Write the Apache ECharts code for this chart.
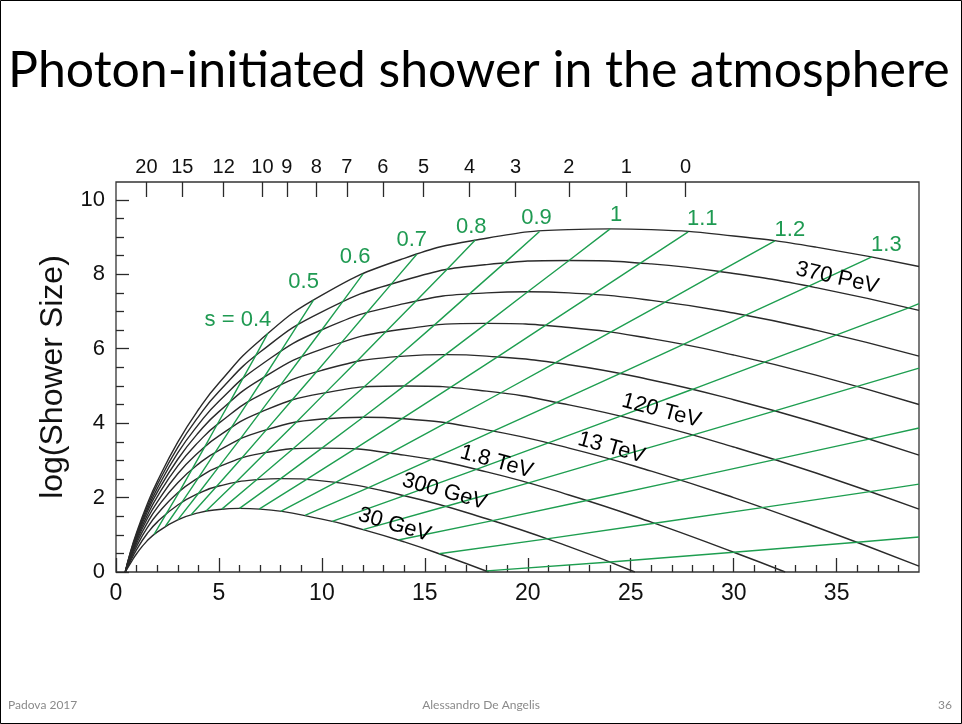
<!DOCTYPE html>
<html>
<head>
<meta charset="utf-8">
<script src="https://cdn.jsdelivr.net/npm/echarts@6/dist/echarts.min.js"></script>
<style>
  html, body { margin: 0; padding: 0; background: #fff; }
  #chart { width: 962px; height: 724px; }
</style>
</head>
<body>
<div id="chart"></div>
<script>
// Longitudinal profiles of photon showers: depth t (radiation lengths) vs log10 of shower size.
const curve30GeV  = [[0.45,0],[0.7,0.23],[1,0.49],[1.5,0.83],[2,1.07],[3,1.40],[4,1.59],[5,1.68],[6,1.71],[7,1.69],[10,1.42],[12,1.14],[14,0.81],[16,0.43],[18.1,0]];
const curve300GeV = [[0.45,0],[0.7,0.29],[1,0.60],[1.5,1.02],[2,1.34],[3,1.80],[4,2.11],[5,2.31],[7,2.49],[8,2.51],[10,2.45],[14,2.05],[18,1.43],[22,0.68],[25.2,0]];
const curve1p8TeV = [[0.45,0],[0.7,0.34],[1,0.69],[1.5,1.17],[2,1.55],[3,2.13],[4,2.53],[5,2.83],[7,3.18],[10,3.33],[14,3.14],[18,2.69],[22,2.07],[26,1.34],[30,0.53],[32.5,0]];
const curve13TeV  = [[0.45,0],[0.7,0.38],[1,0.77],[1.5,1.30],[2,1.73],[3,2.40],[4,2.90],[5,3.27],[7,3.77],[10,4.11],[12,4.16],[14,4.12],[18,3.82],[22,3.33],[26,2.71],[30,2.00],[34,1.21],[39,0.16]];
const curve120TeV = [[0.45,0],[0.7,0.41],[1,0.83],[1.5,1.41],[2,1.88],[3,2.64],[4,3.21],[5,3.66],[7,4.29],[10,4.80],[14,5.00],[18,4.86],[22,4.49],[26,3.98],[30,3.36],[34,2.66],[39,1.69]];
const curve1PeV   = [[0.45,0],[0.7,0.45],[1,0.89],[1.5,1.50],[2,2.02],[3,2.85],[4,3.49],[5,4.00],[7,4.75],[10,5.42],[14,5.80],[16,5.84],[18,5.80],[22,5.57],[26,5.16],[30,4.63],[34,4.01],[39,3.14]];
const curve7PeV   = [[0.45,0],[0.7,0.47],[1,0.93],[1.5,1.59],[2,2.14],[3,3.03],[4,3.74],[5,4.31],[7,5.17],[10,5.99],[14,6.53],[18,6.68],[22,6.57],[26,6.27],[30,5.83],[34,5.29],[39,4.50]];
const curve50PeV  = [[0.45,0],[0.7,0.50],[1,0.98],[1.5,1.66],[2,2.24],[3,3.20],[4,3.96],[5,4.59],[7,5.55],[10,6.51],[14,7.21],[18,7.50],[20,7.53],[22,7.50],[26,7.30],[30,6.96],[34,6.50],[39,5.80]];
const curve370PeV = [[0.45,0],[0.7,0.52],[1,1.02],[1.5,1.73],[2,2.34],[3,3.35],[4,4.17],[5,4.85],[7,5.91],[10,6.99],[14,7.84],[18,8.26],[22,8.37],[26,8.28],[30,8.02],[34,7.64],[39,7.03]];
const curve3EeV   = [[0.45,0],[0.7,0.54],[1,1.06],[1.5,1.80],[2,2.43],[3,3.49],[4,4.36],[5,5.08],[7,6.23],[10,7.44],[14,8.43],[18,8.97],[22,9.20],[24,9.22],[26,9.20],[30,9.03],[34,8.73],[39,8.21]];

const showerCurves = [curve30GeV, curve300GeV, curve1p8TeV, curve13TeV, curve120TeV,
                      curve1PeV, curve7PeV, curve50PeV, curve370PeV, curve3EeV];

// Lines of constant shower age s
const age04 = [[1.85,1.01],[2.46,1.58],[3.08,2.16],[3.69,2.76],[4.31,3.36],[4.92,3.97],[5.54,4.58],[6.15,5.19],[6.77,5.80],[7.38,6.42]];
const age05 = [[2.4,1.23],[3.2,1.87],[4.0,2.53],[4.8,3.20],[5.6,3.88],[6.4,4.56],[7.2,5.24],[8.0,5.93],[8.8,6.62],[9.6,7.31]];
const age06 = [[3,1.40],[4,2.11],[5,2.83],[6,3.55],[7,4.29],[8,5.03],[9,5.77],[10,6.51],[11,7.26],[12,8.01]];
const age07 = [[3.65,1.54],[4.87,2.29],[6.09,3.05],[7.30,3.82],[8.52,4.60],[9.74,5.38],[10.96,6.17],[12.17,6.96],[13.39,7.75],[14.61,8.54]];
const age08 = [[4.36,1.63],[5.82,2.41],[7.27,3.21],[8.73,4.01],[10.18,4.82],[11.64,5.63],[13.09,6.45],[14.55,7.27],[16.0,8.09],[17.45,8.92]];
const age09 = [[5.14,1.69],[6.86,2.49],[8.57,3.30],[10.29,4.12],[12.0,4.95],[13.71,5.79],[15.43,6.62],[17.14,7.46],[18.86,8.30],[20.57,9.15]];
const age10 = [[6,1.71],[8,2.51],[10,3.33],[12,4.16],[14,5.00],[16,5.84],[18,6.68],[20,7.53],[22,8.37],[24,9.22]];
const age11 = [[6.95,1.69],[9.26,2.49],[11.58,3.30],[13.89,4.12],[16.21,4.95],[18.53,5.78],[20.84,6.62],[23.16,7.46],[25.47,8.30],[27.79,9.14]];
const age12 = [[8,1.63],[10.67,2.41],[13.33,3.20],[16,4.00],[18.67,4.81],[21.33,5.62],[24,6.44],[26.67,7.25],[29.33,8.08],[32,8.90]];
const age13 = [[9.18,1.52],[12.24,2.26],[15.29,3.02],[18.35,3.79],[21.41,4.56],[24.47,5.33],[27.53,6.11],[30.59,6.90],[33.65,7.68],[36.71,8.47]];
const age14 = [[10.5,1.36],[14,2.05],[17.5,2.76],[21,3.47],[24.5,4.19],[28,4.91],[31.5,5.64],[35,6.37],[38.5,7.10],[39,7.21]];
const age15 = [[12,1.14],[16,1.76],[20,2.39],[24,3.04],[28,3.68],[32,4.33],[36,4.99],[39,5.48]];
const age16 = [[13.71,0.86],[18.29,1.38],[22.86,1.92],[27.43,2.47],[32,3.02],[36.57,3.57],[39,3.87]];
const age17 = [[15.69,0.49],[20.92,0.89],[26.15,1.31],[31.38,1.73],[36.62,2.16],[39,2.36]];
const age18 = [[18,0.03],[24,0.27],[30,0.53],[36,0.80],[39,0.94]];

const ageLines = [age04, age05, age06, age07, age08, age09, age10, age11, age12, age13, age14, age15, age16, age17, age18];
const ageLabels = ['s = 0.4', '0.5', '0.6', '0.7', '0.8', '0.9', '1', '1.1', '1.2', '1.3'];

const energyLabels = ['30 GeV', '300 GeV', '1.8 TeV', '13 TeV', '120 TeV', '370 PeV'];

// Altitude (km) scale along the top, at the matching atmospheric depth
const altitudeKm = [20, 15, 12, 10, 9, 8, 7, 6, 5, 4, 3, 2, 1, 0];
const altitudeDepth = [1.48, 3.22, 5.23, 7.11, 8.30, 9.73, 11.21, 12.96, 14.94, 17.17, 19.40, 21.99, 24.78, 27.66];

const depthTicks = [0, 5, 10, 15, 20, 25, 30, 35];
const sizeTicks = [0, 2, 4, 6, 8, 10];

// ---- layout / styling ----
const X_MAX = 39, Y_MAX = 10.48;
const INK = '#2a2a2a';
const GREEN = '#1e9e50';
const GREEN_TEXT = '#1f9a52';
const FONT = "'Liberation Sans', Arial, sans-serif";

// Label placement: age labels sit beside the upper end of their line (pixel offsets),
// energy labels are anchored in data space just above their curve.
const ageLabelOffset = [[-30,-13],[-10,-18],[-8,-17],[-5,-14],[-4,-13],[-3,-13.5],[6,-14],[14,-13],[15,-11],[14.5,-12]];
const energyLabelAnchor = [[13.53,1.27],[15.95,2.16],[18.48,2.96],[24.06,3.34],[26.49,4.33],[35.03,7.90]];
const energyLabelAngle = [-16.5, -15.5, -15.5, -15.5, -15, -12.5];

const xMinorTicks = [];
for (let v = 1; v < X_MAX; v++) if (v % 5 !== 0) xMinorTicks.push(v);
const yMinorTicks = [];
for (let v = 0.5; v < 10; v += 0.5) if (v % 2 !== 0) yMinorTicks.push(v);

const tickStyle = { color: INK, width: 1.3 };

const series = [];
showerCurves.forEach(pts => {
  series.push({
    type: 'line', data: pts, smooth: 0.5, symbol: 'none',
    lineStyle: { color: INK, width: 1.4 }, silent: true, z: 2
  });
});
ageLines.forEach(pts => {
  series.push({
    type: 'line', data: pts, smooth: false, symbol: 'none',
    lineStyle: { color: GREEN, width: 1.4 }, silent: true, z: 3
  });
});
series.push({
  type: 'scatter', symbolSize: 1, itemStyle: { color: 'transparent', opacity: 1 }, silent: true, z: 5,
  data: ageLabels.map((txt, i) => ({
    value: ageLines[i][ageLines[i].length - 1],
    label: { show: true, position: 'inside', formatter: txt, offset: ageLabelOffset[i],
             color: GREEN_TEXT, fontSize: 22, fontFamily: FONT, textBorderWidth: 0 }
  }))
});
series.push({
  type: 'scatter', symbolSize: 1, itemStyle: { color: 'transparent', opacity: 1 }, silent: true, z: 5,
  data: energyLabels.map((txt, i) => ({
    value: energyLabelAnchor[i],
    label: { show: true, position: 'inside', formatter: txt, rotate: energyLabelAngle[i],
             color: '#000', fontSize: 22, fontFamily: FONT, textBorderWidth: 0 }
  }))
});

const chart = echarts.init(document.getElementById('chart'), null, { renderer: 'canvas' });
chart.setOption({
  animation: false,
  backgroundColor: '#fff',
  grid: { left: 116, top: 182, width: 803, height: 390, show: true,
          borderColor: '#333', borderWidth: 1.3, backgroundColor: 'transparent' },
  xAxis: [
    { type: 'value', position: 'bottom', min: 0, max: X_MAX,
      axisLine: { show: false }, splitLine: { show: false },
      axisTick: { inside: true, length: 14, customValues: depthTicks, lineStyle: tickStyle },
      axisLabel: { customValues: depthTicks, fontSize: 23, margin: 10, color: '#111', fontFamily: FONT } },
    { type: 'value', position: 'bottom', min: 0, max: X_MAX,
      axisLine: { show: false }, splitLine: { show: false },
      axisTick: { inside: true, length: 7, customValues: xMinorTicks, lineStyle: tickStyle },
      axisLabel: { show: false } },
    { type: 'value', position: 'top', min: 0, max: X_MAX,
      axisLine: { show: false }, splitLine: { show: false },
      axisTick: { inside: true, length: 15, customValues: altitudeDepth, lineStyle: tickStyle },
      axisLabel: { customValues: altitudeDepth, fontSize: 20, margin: 5, color: '#111', fontFamily: FONT,
                   formatter: v => String(altitudeKm[altitudeDepth.indexOf(v)]) } }
  ],
  yAxis: [
    { type: 'value', position: 'left', min: 0, max: Y_MAX,
      axisLine: { show: false }, splitLine: { show: false },
      axisTick: { inside: true, length: 13, customValues: sizeTicks, lineStyle: tickStyle },
      axisLabel: { customValues: sizeTicks, fontSize: 22, margin: 11, color: '#111', fontFamily: FONT },
      name: 'log(Shower Size)', nameLocation: 'middle', nameRotate: 90, nameGap: 46,
      nameTextStyle: { fontSize: 32, color: '#111', fontFamily: FONT } },
    { type: 'value', position: 'left', min: 0, max: Y_MAX,
      axisLine: { show: false }, splitLine: { show: false },
      axisTick: { inside: true, length: 8, customValues: yMinorTicks, lineStyle: tickStyle },
      axisLabel: { show: false } }
  ],
  series: series,
  graphic: [
    { type: 'rect', silent: true, shape: { x: 0.5, y: 0.5, width: 961, height: 723 },
      style: { fill: 'none', stroke: '#000', lineWidth: 1 } },
    { type: 'text', left: 8, top: 46, silent: true,
      style: { text: 'Photon-initiated shower in the atmosphere', font: '50px Lato, sans-serif', fill: '#000' } },
    { type: 'text', left: 8, top: 699, silent: true,
      style: { text: 'Padova 2017', font: '12px Lato, sans-serif', fill: '#8a8a8a' } },
    { type: 'text', left: 'center', top: 699, silent: true,
      style: { text: 'Alessandro De Angelis', font: '12px Lato, sans-serif', fill: '#8a8a8a' } },
    { type: 'text', right: 10, top: 699, silent: true,
      style: { text: '36', font: '12px Lato, sans-serif', fill: '#8a8a8a' } }
  ]
});
</script>
</body>
</html>
